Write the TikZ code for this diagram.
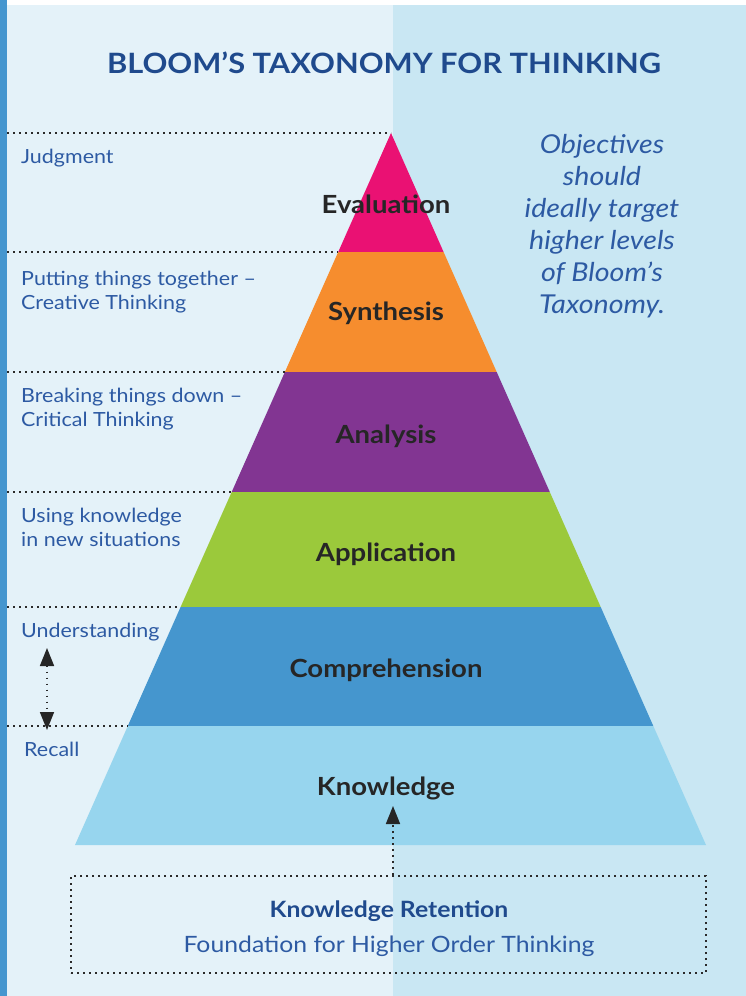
\documentclass[tikz,border=0pt]{standalone}
\usepackage{fontspec}
\setmainfont{Lato}[FakeStretch=1.1]
\usetikzlibrary{arrows.meta}
\definecolor{bgL}{HTML}{E4F2F9}
\definecolor{bgR}{HTML}{C9E7F3}
\definecolor{barblue}{HTML}{4596CF}
\definecolor{titleblue}{HTML}{1F4A8D}
\definecolor{labblue}{HTML}{2D5AA3}
\definecolor{cEval}{HTML}{EA1173}
\definecolor{cSyn}{HTML}{F68D2E}
\definecolor{cAna}{HTML}{823592}
\definecolor{cApp}{HTML}{9BC93B}
\definecolor{cCom}{HTML}{4596CE}
\definecolor{cKno}{HTML}{97D5EE}
\definecolor{ink}{HTML}{262626}
\definecolor{dotgray}{HTML}{2A2A2A}
\begin{document}
\begin{tikzpicture}[x=1pt,y=-1pt,
  leftlab/.style={anchor=base west, text=labblue, font=\fontsize{19.5}{23.5}\selectfont, align=left, inner sep=0pt},
  levellab/.style={anchor=base, text=ink, font=\fontsize{25}{30}\selectfont\bfseries, inner sep=0pt},
  dotline/.style={draw=dotgray, line width=1.7pt, dash pattern=on 1.7pt off 4.3pt},
  tipstyle/.style={-{Triangle[length=18pt,width=14pt,color=ink,fill=ink]}},
  bothtips/.style={{Triangle[length=18pt,width=14pt,color=ink,fill=ink]}-{Triangle[length=18pt,width=14pt,color=ink,fill=ink]}}
]
\useasboundingbox (0,0) rectangle (746,996);
% background
\fill[white] (0,0) rectangle (746,996);
\fill[bgL] (7,5) rectangle (393,996);
\fill[bgR] (393,5) rectangle (746,996);
\fill[barblue] (0,0) rectangle (7,996);

% pyramid levels
\coordinate (a0) at (391,133);
\coordinate (l1) at (338.2,252); \coordinate (r1) at (443.6,252);
\coordinate (l2) at (284.9,372); \coordinate (r2) at (496.7,372);
\coordinate (l3) at (231.7,492); \coordinate (r3) at (549.8,492);
\coordinate (l4) at (180.6,607); \coordinate (r4) at (600.7,607);
\coordinate (l5) at (127.8,726); \coordinate (r5) at (653.3,726);
\coordinate (l6) at (75,845);    \coordinate (r6) at (706,845);
\fill[cEval] (a0) -- (r1) -- (l1) -- cycle;
\fill[cSyn] (l1) -- (r1) -- (r2) -- (l2) -- cycle;
\fill[cAna] (l2) -- (r2) -- (r3) -- (l3) -- cycle;
\fill[cApp] (l3) -- (r3) -- (r4) -- (l4) -- cycle;
\fill[cCom] (l4) -- (r4) -- (r5) -- (l5) -- cycle;
\fill[cKno] (l5) -- (r5) -- (r6) -- (l6) -- cycle;

% dotted guide lines
\foreach \p in {a0,l1,l2,l3,l4,l5}
  \draw[dotline] (7,0 |- \p) -- (\p);

% title
\node[anchor=base, text=titleblue, font=\fontsize{28}{32}\selectfont\bfseries, inner sep=0pt] (title) at (384,73) {BLOOM’S TAXONOMY FOR THINKING};

% level labels
\node[levellab] (eval) at (386,213) {Evaluation};
\node[levellab] (syn) at (386,320) {Synthesis};
\node[levellab] (ana) at (386,443) {Analysis};
\node[levellab] (app) at (386,561) {Application};
\node[levellab] (comp) at (386,677) {Comprehension};
\node[levellab] (know) at (386,795) {Knowledge};

% left labels (anchor at baseline of last line)
\node[leftlab] (judg) at (21,163) {Judgment};
\node[leftlab] (put) at (21,309) {Putting things together –\\Creative Thinking};
\node[leftlab] (brk) at (21,426) {Breaking things down –\\Critical Thinking};
\node[leftlab] (use) at (21,546) {Using knowledge\\in new situations};
\node[leftlab] (und) at (21,637) {Understanding};
\node[leftlab] (rec) at (24,756) {Recall};

% double arrow understanding <-> recall
\coordinate (upA) at (47,648);
\coordinate (dnA) at (47,730);
\draw[dotline, bothtips] (upA) -- (dnA);

% right text
\node[anchor=base, text=labblue, font=\fontsize{26}{32}\selectfont\itshape, align=center, inner sep=0pt] (obj) at (602,313)
  {Objectives\\should\\ideally target\\higher levels\\of Bloom’s\\Taxonomy.};

% bottom box
\node[dotline, rectangle, minimum width=635pt, minimum height=97pt, inner sep=0pt] (box) at (388.5,924.5) {};
\node[anchor=base, text=titleblue, font=\fontsize{22.5}{28}\selectfont\bfseries, inner sep=0pt] (kr) at (389,917) {Knowledge Retention};
\node[anchor=base, text=labblue, font=\fontsize{22.5}{28}\selectfont, inner sep=0pt] (fd) at (389,952) {Foundation for Higher Order Thinking};
\coordinate (ktip) at (393,806);
\draw[dotline, tipstyle] (box.north -| ktip) -- (ktip);
\end{tikzpicture}
\end{document}
